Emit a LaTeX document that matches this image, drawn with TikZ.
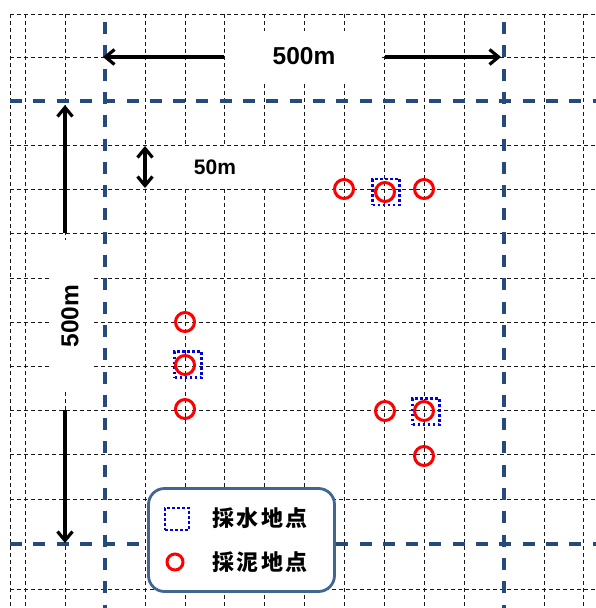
\documentclass[tikz,border=0pt]{standalone}
\usepackage{fontspec}
\setmainfont{Liberation Sans}
\newfontfamily\jpfont{Noto Sans CJK JP}
\usetikzlibrary{arrows.meta}
\definecolor{gridblue}{RGB}{38,74,124}
\definecolor{legblue}{RGB}{66,101,146}
\definecolor{sampred}{RGB}{255,0,0}
\definecolor{sampblue}{RGB}{0,0,230}
\tikzset{
  gridline/.style={black!90, line width=0.9pt, dash pattern=on 4pt off 3pt},
  mainline/.style={gridblue, line width=3.2pt, dash pattern=on 12pt off 11.3pt},
  dimarrow/.style={line width=3.2pt, -{Straight Barb[length=9pt,width=15pt]}},
  dimboth/.style={line width=3.2pt, {Straight Barb[length=9pt,width=15pt]}-{Straight Barb[length=9pt,width=15pt]}},
  labelbox/.style={fill=white, inner sep=0pt, font=\bfseries\fontsize{24.5}{26}\selectfont},
  mud/.style={circle, draw=sampred, line width=3pt, minimum size=19pt, inner sep=0pt},
  water/.style={rectangle, draw=sampblue, line width=2.6pt, dash pattern=on 2.6pt off 2.4pt, minimum width=27pt, minimum height=26pt, inner sep=0pt},
  legtext/.style={anchor=west, inner sep=0pt, font=\jpfont\bfseries\fontsize{22}{24}\selectfont},
}
\newcommand{\jsp}{\kern2.5pt}
\begin{document}
\begin{tikzpicture}[x=1pt, y=-1pt]
\useasboundingbox (0,0) rectangle (596,608);
% fine grid
\foreach \gx in {10,25,65,145,185,224,264,304,344,384,424,464,544,583}
  \draw[gridline] (\gx,14) -- (\gx,608);
\foreach \gy in {14,57,145.5,189,233.5,278.5,322,366,410,454,499,589}
  \draw[gridline] (10,\gy) -- (596,\gy);
% main 500 m lines
\draw[mainline] (105,22) -- (105,608);
\draw[mainline] (504,22) -- (504,608);
\draw[mainline] (10,101) -- (596,101);
\draw[mainline] (10,544) -- (596,544);
% labels
\node[labelbox, minimum width=155pt, minimum height=50pt] (top500) at (304,56) {500m};
\node[labelbox, rotate=90, minimum width=152pt, minimum height=42pt] (side500) at (70,316) {500m};
\node[labelbox, font=\bfseries\fontsize{21}{23}\selectfont, minimum width=118pt, minimum height=40pt] (cell50) at (215,167) {50m};
% arrow end points
\coordinate (hA) at (224,57);
\coordinate (hB) at (103,57);
\coordinate (hC) at (385,57);
\coordinate (hD) at (501,57);
\coordinate (vA) at (65,233);
\coordinate (vB) at (65,105);
\coordinate (vC) at (65,410);
\coordinate (vD) at (65,543);
\coordinate (sA) at (145,146);
\coordinate (sB) at (145,188);
\draw[dimarrow] (hA) -- (hB);
\draw[dimarrow] (hC) -- (hD);
\draw[dimarrow] (vA) -- (vB);
\draw[dimarrow] (vC) -- (vD);
\draw[dimboth] (sA) -- (sB);
% water sampling points
\node[water] (w1) at (386,192) {};
\node[water] (w2) at (188,364.5) {};
\node[water] (w3) at (426,411.5) {};
% mud sampling points
\node[mud] (m1) at (344,189) {};
\node[mud] (m2) at (385,192) {};
\node[mud] (m3) at (424,189) {};
\node[mud] (m4) at (185,322) {};
\node[mud] (m5) at (185,365) {};
\node[mud] (m6) at (185,409) {};
\node[mud] (m7) at (385,411) {};
\node[mud] (m8) at (424,411) {};
\node[mud] (m9) at (424,456) {};
% legend
\node[draw=legblue, line width=2.8pt, rounded corners=16pt, fill=white, minimum width=186pt, minimum height=103pt, inner sep=0pt] (legend) at (241.5,540) {};
\node[water, minimum width=24pt, minimum height=22pt] (legw) at (177,519) {};
\node[mud, minimum size=16pt] (legm) at (175,562) {};
\node[legtext] (legwt) at (212,518) {採\jsp 水\jsp 地\jsp 点};
\node[legtext] (legmt) at (212,562) {採\jsp 泥\jsp 地\jsp 点};
\end{tikzpicture}
\end{document}
